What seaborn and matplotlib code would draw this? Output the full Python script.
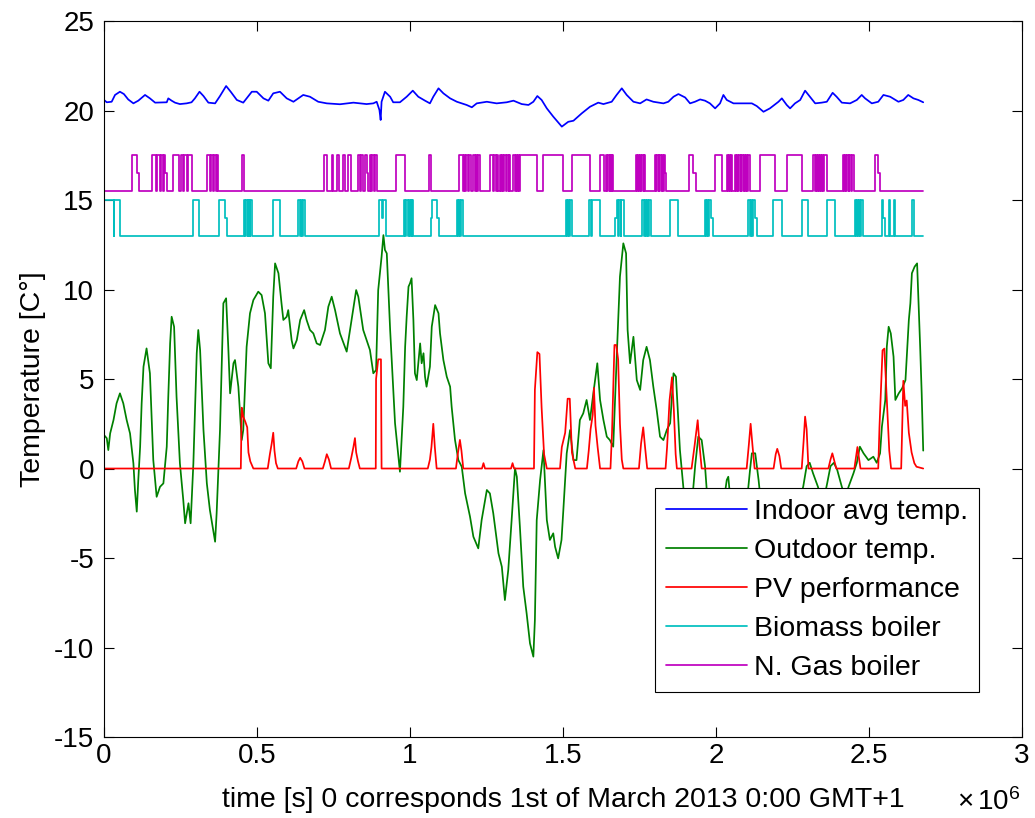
import matplotlib
matplotlib.use("Agg")
import matplotlib.pyplot as plt
import seaborn as sns

# ---- time axis is expressed in units of 10^6 s ----
T_END = 2.677

# indoor average temperature
indoor_t = [0.0, 0.009, 0.025, 0.036, 0.052, 0.065, 0.079, 0.096, 0.112, 0.134,
            0.150, 0.167, 0.205, 0.210, 0.221, 0.232, 0.248, 0.270, 0.286, 0.297,
            0.312, 0.325, 0.341, 0.363, 0.379, 0.399, 0.414, 0.434, 0.455, 0.483,
            0.499, 0.521, 0.537, 0.553, 0.575, 0.597, 0.619, 0.651, 0.673, 0.700,
            0.728, 0.771, 0.815, 0.858, 0.880, 0.891, 0.900, 0.904, 0.907, 0.918,
            0.935, 0.945,
            0.967, 0.989, 1.009, 1.027, 1.049, 1.065, 1.076, 1.093, 1.109, 1.131,
            1.153, 1.185, 1.202, 1.218, 1.251, 1.283, 1.316, 1.338, 1.365, 1.387,
            1.403, 1.416, 1.430, 1.447, 1.468, 1.496, 1.517, 1.534, 1.561, 1.588,
            1.615, 1.632, 1.659, 1.675, 1.692, 1.708, 1.730, 1.752, 1.773, 1.795,
            1.828, 1.844, 1.861, 1.877, 1.899,
            1.915, 1.931, 1.948, 1.964, 1.980, 1.997, 2.013, 2.024, 2.035, 2.057,
            2.089, 2.117, 2.133, 2.155, 2.176, 2.204, 2.215, 2.231, 2.242, 2.258,
            2.275, 2.291, 2.307, 2.324, 2.345, 2.362, 2.381, 2.394, 2.411, 2.438,
            2.460, 2.476, 2.487, 2.509, 2.530, 2.547, 2.569, 2.596, 2.612, 2.628,
            2.645, 2.661, 2.677]
indoor_v = [20.59, 20.46, 20.49, 20.87, 21.05, 20.92, 20.62, 20.40, 20.55, 20.87,
            20.68, 20.44, 20.46, 20.68, 20.55, 20.44, 20.36, 20.40, 20.46, 20.68,
            21.05, 20.81, 20.44, 20.40, 20.81, 21.37, 21.05, 20.59, 20.44, 21.05,
            21.05, 20.68, 20.55, 20.96, 21.05, 20.68, 20.49, 20.87, 20.77, 20.49,
            20.40, 20.35, 20.44, 20.36, 20.40, 20.49, 20.03, 19.47, 20.49, 21.05,
            20.77, 20.46,
            20.46, 20.77, 21.11, 20.77, 20.55, 20.40, 20.77, 21.24, 20.96, 20.68,
            20.49, 20.31, 20.18, 20.40, 20.49, 20.40, 20.46, 20.55, 20.36, 20.31,
            20.49, 20.81, 20.59, 20.12, 19.66, 19.10, 19.37, 19.43, 19.84, 20.21,
            20.44, 20.36, 20.49, 20.87, 21.24, 20.87, 20.49, 20.40, 20.62, 20.49,
            20.40, 20.49, 20.77, 20.92, 20.73,
            20.40, 20.49, 20.62, 20.55, 20.40, 20.12, 20.40, 20.87, 20.59, 20.40,
            20.40, 20.40, 20.25, 19.93, 20.12, 20.49, 20.68, 20.31, 20.12, 20.40,
            20.59, 21.11, 20.77, 20.40, 20.44, 20.49, 20.99, 20.77, 20.44, 20.40,
            20.59, 20.87, 20.68, 20.40, 20.49, 20.87, 20.77, 20.49, 20.59, 20.87,
            20.68, 20.59, 20.46]

# outdoor temperature
outdoor_t = [0.0, 0.009, 0.014, 0.020, 0.031, 0.041, 0.052, 0.063, 0.074, 0.085,
             0.096, 0.101, 0.107, 0.112, 0.118, 0.123, 0.129, 0.139, 0.150, 0.156,
             0.161, 0.172, 0.183, 0.194, 0.205, 0.210, 0.216, 0.221, 0.229, 0.237,
             0.248, 0.259, 0.265, 0.276, 0.283, 0.292, 0.303, 0.308, 0.314, 0.325,
             0.336, 0.346, 0.363, 0.368, 0.379, 0.390, 0.399, 0.406, 0.412, 0.423,
             0.428, 0.439, 0.450, 0.455, 0.466, 0.477, 0.488, 0.504, 0.515, 0.526,
             0.537, 0.545, 0.553, 0.559, 0.570, 0.580, 0.586, 0.597, 0.602, 0.613,
             0.619, 0.630, 0.641, 0.654, 0.662, 0.673, 0.684, 0.695, 0.706, 0.722,
             0.733, 0.744, 0.755, 0.771, 0.793, 0.809, 0.824, 0.831, 0.847, 0.869,
             0.880, 0.889, 0.896, 0.907, 0.913, 0.918, 0.924, 0.935, 0.951, 0.962,
             0.967, 0.978, 0.984, 0.989, 0.995, 1.000, 1.005, 1.011, 1.016, 1.022,
             1.027, 1.033, 1.038, 1.044, 1.049, 1.054, 1.065, 1.071, 1.082, 1.093,
             1.098, 1.109, 1.120, 1.131, 1.136, 1.147, 1.158, 1.169, 1.180, 1.196,
             1.207, 1.223, 1.234, 1.251, 1.261, 1.272, 1.289, 1.300, 1.310, 1.321,
             1.332, 1.343, 1.349, 1.359, 1.370, 1.381, 1.392, 1.403, 1.408, 1.414,
             1.425, 1.436, 1.447, 1.457, 1.468, 1.474, 1.484, 1.495, 1.501, 1.512,
             1.523, 1.534, 1.544, 1.555, 1.566, 1.577, 1.588, 1.599, 1.612, 1.621,
             1.632, 1.643, 1.653, 1.664, 1.675, 1.686, 1.697, 1.706, 1.711, 1.719,
             1.730, 1.741, 1.752, 1.762, 1.773, 1.784, 1.795, 1.806, 1.817, 1.828,
             1.839, 1.850, 1.861, 1.869, 1.882, 1.893,
             1.905, 1.920, 1.932, 1.942, 1.953, 1.964, 1.975, 1.990, 2.010, 2.028,
             2.035, 2.040, 2.046, 2.060, 2.080, 2.100, 2.111, 2.117, 2.128, 2.139,
             2.150, 2.180, 2.210, 2.240, 2.270, 2.285, 2.296, 2.306, 2.317, 2.333,
             2.345, 2.355, 2.363, 2.374, 2.385, 2.396, 2.411, 2.422, 2.433, 2.449,
             2.460, 2.470, 2.482, 2.498, 2.514, 2.525, 2.536, 2.542, 2.553, 2.558,
             2.564, 2.571, 2.580, 2.586, 2.597, 2.608, 2.619, 2.630, 2.635, 2.640,
             2.649, 2.657, 2.667, 2.672, 2.677]
outdoor_v = [1.87, 1.69, 1.03, 1.96, 2.71, 3.64, 4.20, 3.64, 2.71, 1.96,
             0.29, -1.20, -2.41, -0.64, 1.22, 3.64, 5.69, 6.71, 5.32, 2.71,
             0.47, -1.58, -1.02, -0.83, 1.22, 4.01, 6.99, 8.48, 7.92, 4.01,
             0.29, -1.76, -3.06, -1.94, -3.06, 0.29, 6.44, 7.74, 6.62, 2.15,
             -0.83, -2.32, -4.09, -2.50, 2.15, 9.23, 9.51, 6.80, 4.20, 5.88,
             6.06, 4.57, 1.59, 2.15, 6.80, 8.67, 9.41, 9.88, 9.69, 8.67,
             5.88, 5.60, 9.60, 11.46, 10.91, 9.23, 8.30, 8.48, 8.85, 7.18,
             6.71, 7.18, 8.30, 8.85, 8.30, 7.74, 7.55, 6.99, 6.90, 7.74,
             9.04, 9.60, 8.85, 7.55, 6.53, 8.30, 9.97, 9.60, 7.74, 6.62,
             5.32, 5.50, 9.97, 11.83, 13.04, 12.21, 12.02, 7.74, 2.53, 0.66,
             -0.18, 3.45, 6.80, 8.48, 10.16, 10.35, 10.63, 8.30, 5.32, 4.94,
             5.88, 6.99, 5.88, 6.44, 5.13, 4.57, 5.69, 7.92, 9.13, 8.67,
             7.55, 6.06, 5.13, 4.57, 3.45, 1.59, 0.47, 0.10, -1.39, -2.69,
             -3.81, -4.46, -2.88, -1.20, -1.39, -2.50, -4.74, -5.49, -7.35, -5.67,
             -2.88, 0.01, -0.46, -3.25, -6.60, -8.09, -9.77, -10.51, -8.46, -2.88,
             -0.64, 1.03, -2.88, -3.99, -3.62, -4.37, -5.02, -3.99, -2.32, 0.85,
             2.15, 0.47, 0.47, 2.71, 3.08, 3.83, 2.71, 4.20, 5.88, 3.83,
             2.71, 1.78, 1.59, 1.22, 6.06, 10.72, 12.58, 12.02, 7.74, 5.88,
             7.36, 4.94, 4.39, 6.06, 6.80, 6.06, 4.57, 3.27, 1.78, 1.59,
             2.15, 2.53, 5.32, 5.13, 1.03, -1.02,
             -3.0, -2.2, 0.2, 1.78, 1.59, 0.13, -2.5, -4.0, -3.0, -1.5,
             -0.64, -0.46, -1.6, -3.5, -4.2, -2.0, -0.08, 0.85, 0.85, -0.64,
             -2.5, -4.5, -5.5, -4.0, -2.0, -1.0, 0.13, 0.32, -0.27, -1.02,
             -1.8, -1.5, -0.84, 0.13, 0.32, -0.08, -1.02, -1.6, -1.02, -0.27,
             0.32, 1.22, 0.85, 0.47, 0.66, 0.32, 0.85, 2.34, 3.83, 6.80,
             7.92, 7.55, 6.25, 3.83, 4.20, 4.48, 4.94, 8.30, 9.23, 10.91,
             11.28, 11.46, 6.80, 4.20, 1.0]

# photovoltaic performance
pv_t = [0.0, 0.447, 0.450, 0.455, 0.462, 0.468, 0.472, 0.478, 0.483, 0.488,
        0.535, 0.542, 0.548, 0.553, 0.557, 0.562, 0.568,
        0.628, 0.635, 0.641, 0.648, 0.655,
        0.715, 0.722, 0.728, 0.735, 0.742,
        0.800, 0.808, 0.815, 0.820, 0.824, 0.830, 0.836,
        0.888, 0.889, 0.896, 0.905, 0.907,
        1.058, 1.065, 1.070, 1.076, 1.081, 1.087,
        1.150, 1.156, 1.163, 1.168, 1.174,
        1.235, 1.240, 1.245,
        1.330, 1.335, 1.340,
        1.405, 1.408, 1.416, 1.423, 1.430, 1.438, 1.447,
        1.490, 1.496, 1.507, 1.515, 1.522, 1.529, 1.540,
        1.578, 1.584, 1.590, 1.597, 1.601, 1.606, 1.613, 1.621,
        1.655, 1.660, 1.668, 1.674, 1.680, 1.686, 1.692, 1.697,
        1.748, 1.755, 1.762, 1.768, 1.775,
        1.835, 1.840, 1.848, 1.856, 1.862, 1.868, 1.872,
        1.920, 1.930, 1.940, 1.946, 1.953,
        2.100, 2.107, 2.113, 2.119, 2.126,
        2.188, 2.195, 2.200, 2.207, 2.213,
        2.280, 2.286, 2.291, 2.296, 2.302,
        2.367, 2.374, 2.380, 2.387, 2.393,
        2.452, 2.457, 2.462, 2.467, 2.472,
        2.530, 2.534, 2.544, 2.550, 2.558, 2.566, 2.572,
        2.605, 2.612, 2.618, 2.623, 2.630, 2.639, 2.648, 2.655, 2.677]
pv_v = [0, 0, 3.4, 2.9, 2.6, 2.3, 0.9, 0.4, 0.2, 0,
        0, 0.8, 1.4, 2.0, 1.0, 0.3, 0,
        0, 0.4, 0.6, 0.4, 0,
        0, 0.4, 0.8, 0.5, 0,
        0, 0.6, 1.2, 1.7, 0.9, 0.4, 0,
        0, 5.0, 6.1, 6.1, 0,
        0, 0.5, 1.2, 2.5, 1.2, 0,
        0, 0.8, 1.6, 1.0, 0,
        0, 0.3, 0,
        0, 0.3, 0,
        0, 4.4, 6.5, 6.4, 3.4, 0.8, 0,
        0, 1.2, 2.0, 3.9, 3.9, 0.9, 0,
        0, 1.0, 2.2, 3.0, 4.5, 2.4, 1.2, 0,
        0, 2.0, 6.9, 6.9, 6.1, 2.5, 0.5, 0,
        0, 1.4, 2.3, 1.2, 0,
        0, 1.2, 3.8, 5.1, 3.3, 0.8, 0,
        0, 1.3, 2.7, 1.3, 0,
        0, 1.3, 2.5, 1.3, 0,
        0, 0.8, 1.1, 0.7, 0,
        0, 1.5, 2.9, 2.2, 0,
        0, 0.5, 0.85, 0.4, 0,
        0, 0.6, 1.2, 0.6, 0,
        0, 2.3, 6.6, 6.7, 3.8, 1.0, 0,
        0, 4.9, 3.5, 3.8, 2.0, 0.9, 0.3, 0.1, 0]

# boiler operation: (switch-on, switch-off, fraction of full output)
biomass_runs = [
    (0.000, 0.031, 1), (0.034, 0.052, 1),
    (0.292, 0.311, 1),
    (0.377, 0.395, 1), (0.395, 0.401, 0.5),
    (0.458, 0.462, 1), (0.465, 0.469, 1), (0.472, 0.476, 1), (0.478, 0.482, 1),
    (0.551, 0.575, 1),
    (0.635, 0.640, 1), (0.643, 0.647, 1), (0.650, 0.657, 1),
    (0.897, 0.908, 1), (0.908, 0.913, 0.5), (0.913, 0.921, 1),
    (0.980, 0.985, 1), (0.988, 0.992, 1), (0.995, 0.999, 1), (1.002, 1.006, 1), (1.008, 1.011, 1),
    (1.067, 1.073, 0.5), (1.073, 1.089, 1), (1.089, 1.096, 0.5),
    (1.153, 1.157, 1), (1.160, 1.164, 1), (1.167, 1.172, 1),
    (1.509, 1.513, 1), (1.516, 1.520, 1), (1.523, 1.528, 1),
    (1.585, 1.592, 1), (1.596, 1.620, 1),
    (1.670, 1.676, 0.5), (1.676, 1.681, 1), (1.684, 1.688, 1), (1.691, 1.699, 1),
    (1.759, 1.764, 1), (1.767, 1.771, 1), (1.774, 1.778, 1), (1.781, 1.789, 1),
    (1.849, 1.877, 1),
    (1.964, 1.968, 1), (1.971, 1.975, 1), (1.978, 1.982, 1), (1.982, 1.989, 0.5),
    (2.106, 2.110, 1), (2.113, 2.117, 1), (2.120, 2.127, 1), (2.127, 2.133, 0.5),
    (2.187, 2.215, 1),
    (2.280, 2.302, 1),
    (2.362, 2.389, 1),
    (2.454, 2.458, 1), (2.461, 2.465, 1), (2.468, 2.472, 1), (2.475, 2.481, 1),
    (2.541, 2.546, 1), (2.546, 2.553, 0.5), (2.564, 2.569, 1), (2.580, 2.585, 1),
    (2.640, 2.647, 1),
]
gas_runs = [
    (0.093, 0.107, 1), (0.107, 0.115, 0.5),
    (0.156, 0.170, 1), (0.174, 0.183, 1), (0.186, 0.194, 1), (0.196, 0.199, 1), (0.199, 0.205, 0.5),
    (0.227, 0.246, 1), (0.251, 0.259, 1), (0.262, 0.272, 1), (0.276, 0.286, 1),
    (0.336, 0.346, 1), (0.351, 0.356, 1), (0.359, 0.365, 1), (0.368, 0.374, 1),
    (0.450, 0.458, 1),
    (0.719, 0.728, 1), (0.744, 0.749, 1), (0.762, 0.769, 1), (0.780, 0.788, 1), (0.798, 0.806, 1),
    (0.831, 0.838, 1), (0.841, 0.847, 1), (0.853, 0.858, 1), (0.858, 0.864, 0.5),
    (0.869, 0.874, 1), (0.877, 0.882, 1), (0.885, 0.893, 1),
    (0.954, 0.984, 1),
    (1.063, 1.068, 1),
    (1.161, 1.172, 1), (1.176, 1.181, 1), (1.184, 1.189, 1), (1.192, 1.198, 1),
    (1.207, 1.212, 1), (1.216, 1.220, 1), (1.223, 1.229, 1),
    (1.261, 1.272, 1), (1.275, 1.280, 1), (1.283, 1.289, 1), (1.293, 1.298, 1),
    (1.301, 1.305, 1), (1.308, 1.313, 1), (1.317, 1.322, 1), (1.324, 1.327, 1),
    (1.338, 1.343, 1), (1.346, 1.350, 1), (1.353, 1.357, 1), (1.359, 1.414, 1),
    (1.436, 1.501, 1),
    (1.528, 1.588, 1),
    (1.621, 1.634, 1), (1.640, 1.645, 1), (1.648, 1.652, 1), (1.655, 1.659, 1), (1.661, 1.664, 1),
    (1.737, 1.742, 1), (1.745, 1.749, 1), (1.752, 1.756, 1), (1.759, 1.763, 1), (1.765, 1.768, 1),
    (1.800, 1.805, 1), (1.808, 1.812, 1), (1.815, 1.819, 1), (1.822, 1.826, 1),
    (1.829, 1.833, 1), (1.833, 1.838, 0.5),
    (1.912, 1.924, 1), (1.924, 1.936, 0.5),
    (1.997, 2.018, 1),
    (2.035, 2.040, 1), (2.043, 2.047, 1), (2.049, 2.051, 1), (2.062, 2.066, 1), (2.069, 2.073, 1),
    (2.076, 2.080, 1), (2.083, 2.087, 1), (2.090, 2.094, 1), (2.097, 2.101, 1), (2.104, 2.111, 1),
    (2.144, 2.193, 1),
    (2.231, 2.280, 1),
    (2.318, 2.323, 1), (2.326, 2.330, 1), (2.333, 2.337, 1), (2.340, 2.344, 1),
    (2.347, 2.351, 1), (2.354, 2.362, 1),
    (2.414, 2.419, 1), (2.422, 2.426, 1), (2.429, 2.433, 1), (2.436, 2.440, 1), (2.443, 2.451, 1),
    (2.519, 2.530, 1), (2.530, 2.536, 0.5),
]
BIOMASS_LEVELS = (13.0, 15.0)
GAS_LEVELS = (15.5, 17.5)

x_ticks = [0, 0.5, 1, 1.5, 2, 2.5, 3]
x_tick_labels = ["0", "0.5", "1", "1.5", "2", "2.5", "3"]
y_ticks = [-15, -10, -5, 0, 5, 10, 15, 20, 25]


def on_off_trace(runs, t_end, levels):
    """Turn (on, off, fraction) runs into a steps-post trace."""
    low, high = levels
    ts, vs = [0.0], [low]
    for i, (a, b, frac) in enumerate(runs):
        ts.append(a)
        vs.append(low + frac * (high - low))
        nxt = runs[i + 1][0] if i + 1 < len(runs) else None
        if nxt is None or nxt > b:
            ts.append(b)
            vs.append(low)
    ts.append(t_end)
    vs.append(low)
    return ts, vs


sns.set_theme(style="white")
plt.rcParams["font.family"] = ["Liberation Sans", "DejaVu Sans"]
plt.rcParams.update({
    "mathtext.fontset": "custom",
    "mathtext.rm": "Liberation Sans",
    "mathtext.it": "Liberation Sans:italic",
    "axes.unicode_minus": False,
    "text.color": "black",
    "axes.labelcolor": "black",
    "xtick.color": "black",
    "ytick.color": "black",
    "axes.edgecolor": "black",
    "axes.linewidth": 0.8,
})

fig = plt.figure(figsize=(10.35, 8.18), dpi=100)
ax = fig.add_axes([0.1005, 0.099, 0.887, 0.8753])

LW = 1.25
line_kw = dict(ax=ax, sort=False, estimator=None, linewidth=LW)
sns.lineplot(x=indoor_t, y=indoor_v, color="#0000FF", label="Indoor avg temp.", **line_kw)
sns.lineplot(x=outdoor_t, y=outdoor_v, color="#008000", label="Outdoor temp.", **line_kw)
sns.lineplot(x=pv_t, y=pv_v, color="#FF0000", label="PV performance", **line_kw)

bio_t, bio_v = on_off_trace(biomass_runs, T_END, BIOMASS_LEVELS)
gas_t, gas_v = on_off_trace(gas_runs, T_END, GAS_LEVELS)
sns.lineplot(x=bio_t, y=bio_v, color="#00BFBF", label="Biomass boiler",
             drawstyle="steps-post", **line_kw)
sns.lineplot(x=gas_t, y=gas_v, color="#BF00BF", label="N. Gas boiler",
             drawstyle="steps-post", **line_kw)

ax.set_xlim(0, 3)
ax.set_ylim(-15, 25)
ax.set_xticks(x_ticks)
ax.set_xticklabels(x_tick_labels)
ax.set_yticks(y_ticks)
ax.tick_params(axis="both", which="major", direction="in", top=True, right=True,
               bottom=True, left=True, length=7, width=0.8, labelsize=20)
ax.tick_params(axis="x", pad=4)
ax.tick_params(axis="y", pad=7)
for sp in ax.spines.values():
    sp.set_visible(True)
    sp.set_color("black")
    sp.set_linewidth(0.8)

ax.set_xlabel("time [s] 0 corresponds 1st of March 2013 0:00 GMT+1", fontsize=20.5, labelpad=13)
ax.set_ylabel("Temperature [C°]", fontsize=20.5, labelpad=6)
ax.text(0.998, -0.102, r"$\times\,10^{6}$", transform=ax.transAxes,
        ha="right", va="baseline", fontsize=20)

leg = ax.legend(loc="upper left", bbox_to_anchor=(0.600, 0.348), borderaxespad=0,
                fontsize=20.5, frameon=True, fancybox=False, shadow=False,
                edgecolor="black", framealpha=1, handlelength=2.85,
                handletextpad=0.25, labelspacing=0.46, borderpad=0.38)
leg.get_frame().set_linewidth(0.8)
for h in leg.get_lines():
    h.set_linewidth(LW)

fig.savefig("out.png", dpi=100)
